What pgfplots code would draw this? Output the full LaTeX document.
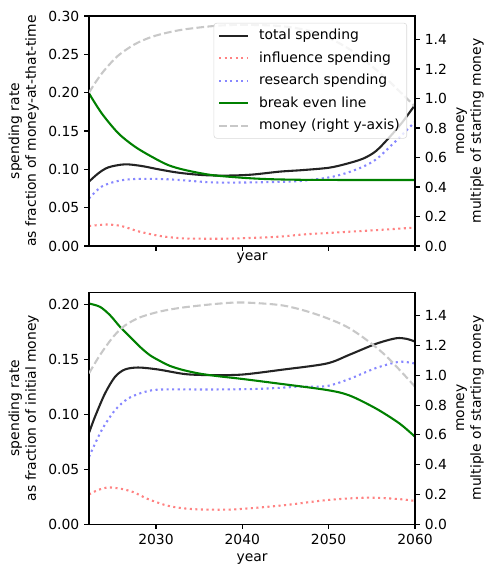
\documentclass[border=0pt]{standalone}
\usepackage{pgfplots}
\pgfplotsset{compat=1.18}
\usepackage{fontspec}
\setmainfont{DejaVu Sans}
\definecolor{mgreen}{RGB}{0,128,0}
\definecolor{mred}{RGB}{255,130,130}
\definecolor{mblue}{RGB}{135,135,255}
\definecolor{mgray}{RGB}{200,200,200}
\definecolor{mblack}{RGB}{35,35,35}
\pgfplotsset{
  base/.style={
    scale only axis, width=234.7pt, height=165.6pt,
    xmin=2022.25, xmax=2060,
    tick align=outside, major tick length=3.5pt,
    every tick/.style={black, line width=0.8pt},
    axis line style={line width=0.8pt},
    tick label style={font=\fontsize{10}{12}\selectfont},
    label style={font=\fontsize{10}{12}\selectfont},
    /pgf/number format/assume math mode=true,
    /pgf/number format/set thousands separator={},
    xtick={2030,2040,2050,2060},
    axis on top,
  },
  leftax/.style={base, ytick pos=left, xtick pos=bottom,
    yticklabel style={/pgf/number format/fixed,/pgf/number format/fixed zerofill,/pgf/number format/precision=2},
    ylabel style={align=center}},
  rightax/.style={base, axis x line=none, axis y line*=right, ymin=0, ymax=1.56,
    ytick={0,0.2,0.4,0.6,0.8,1.0,1.2,1.4},
    yticklabel style={/pgf/number format/fixed,/pgf/number format/fixed zerofill,/pgf/number format/precision=1},
    ylabel near ticks, ylabel style={align=center}},
  tot/.style={mblack, line width=1.5pt, smooth},
  infl/.style={mred, line width=1.5pt, dash pattern=on 1.5pt off 2.5pt, smooth},
  res/.style={mblue, line width=1.5pt, dash pattern=on 1.5pt off 2.5pt, smooth},
  brk/.style={mgreen, line width=1.5pt, smooth},
  mon/.style={mgray, line width=1.5pt, dash pattern=on 5.5pt off 2.4pt, smooth},
}
\begin{document}
\begin{tikzpicture}
\useasboundingbox (-64.1pt,-237.6pt) rectangle (286.5pt,177.1pt);
% ---------- top panel ----------
\begin{axis}[leftax, at={(0,0)}, anchor=south west, ymin=0, ymax=0.30,
  ytick={0,0.05,0.10,0.15,0.20,0.25,0.30}, xticklabels={},
  xlabel={year}, xlabel style={yshift=9pt},
  ylabel={spending rate\\as fraction of money-at-that-time}]
\addplot[tot] coordinates {(2022.25,0.084) (2023.33,0.0948) (2024.5,0.1026) (2026.4,0.1065) (2028.35,0.1043) (2030.3,0.100) (2032.6,0.0956) (2035.3,0.0926) (2038,0.0918) (2041,0.093) (2044.35,0.097) (2047,0.099) (2050,0.102) (2052,0.107) (2054,0.114) (2055.5,0.124) (2057.1,0.1426) (2058.5,0.161) (2060,0.184)};
\addplot[infl] coordinates {(2022.25,0.026) (2024.3,0.028) (2026,0.026) (2028,0.019) (2030.5,0.013) (2033,0.010) (2035.1,0.0095) (2038,0.0095) (2041,0.0105) (2044.35,0.0122) (2047,0.015) (2050,0.017) (2053,0.019) (2056,0.021) (2060,0.024)};
\addplot[res] coordinates {(2022.25,0.062) (2023.7,0.0774) (2025.6,0.0848) (2027.6,0.0874) (2031.4,0.087) (2036.4,0.083) (2040,0.0828) (2044,0.0835) (2047,0.085) (2050.1,0.0896) (2052,0.095) (2054,0.1035) (2055.5,0.113) (2057.1,0.1295) (2058.5,0.145) (2060,0.162)};
\addplot[brk] coordinates {(2022.25,0.199) (2023.72,0.173) (2025.64,0.147) (2027.57,0.1295) (2029.5,0.1165) (2031.4,0.1056) (2033.4,0.099) (2036.4,0.0926) (2040,0.089) (2043,0.0872) (2047,0.0863) (2052,0.0861) (2060,0.0861)};
\end{axis}
\begin{axis}[rightax, at={(0,0)}, anchor=south west,
  ylabel={money\\multiple of starting money},
  legend cell align=left,
  legend image code/.code={\draw[#1] (0pt,0pt) -- (21pt,0pt); \path (26pt,0pt);},
  legend style={at={(rel axis cs:0.9755,0.97)}, anchor=north east,
    draw=black!15, rounded corners=2pt, fill=white, fill opacity=0.8, text opacity=1,
    font=\fontsize{10}{12}\selectfont, row sep=3.1pt, inner xsep=3pt, inner ysep=2.5pt}]
\addlegendimage{tot}
\addlegendentry{total spending}
\addlegendimage{infl}
\addlegendentry{influence spending}
\addlegendimage{res}
\addlegendentry{research spending}
\addlegendimage{brk}
\addlegendentry{break even line}
\addplot[mon] coordinates {(2022.25,1.04) (2023.0,1.11) (2024.0,1.19) (2025.6,1.29) (2027.6,1.37) (2029.5,1.418) (2031.4,1.448) (2033.4,1.47) (2036.9,1.493) (2040.1,1.50) (2044.7,1.49) (2048.6,1.445) (2052.4,1.335) (2056.3,1.155) (2060,0.945)};
\addlegendentry{money (right y-axis)}
\end{axis}
% ---------- bottom panel ----------
\begin{axis}[leftax, at={(0,-200.2pt)}, anchor=south west, height=167pt, ymin=0, ymax=0.211,
  ytick={0,0.05,0.10,0.15,0.20},
  xlabel={year}, ylabel={spending rate\\as fraction of initial money}]
\addplot[tot] coordinates {(2022.25,0.083) (2022.94,0.0976) (2024.1,0.1188) (2025.26,0.1339) (2026.4,0.1406) (2027.95,0.1424) (2030.26,0.1406) (2033.4,0.1364) (2036.4,0.1355) (2040,0.136) (2044.7,0.1405) (2049.75,0.146) (2052.4,0.154) (2055.5,0.164) (2057.8,0.169) (2059,0.1685) (2060,0.166)};
\addplot[infl] coordinates {(2022.25,0.027) (2023.3,0.031) (2024.5,0.0333) (2026,0.032) (2027.4,0.029) (2029,0.023) (2031.2,0.017) (2033,0.0145) (2035.1,0.0133) (2038.95,0.0133) (2044.7,0.017) (2049.75,0.0218) (2054.4,0.024) (2058.2,0.0227) (2060,0.021)};
\addplot[res] coordinates {(2022.25,0.0612) (2023.72,0.0855) (2025.26,0.1036) (2026.8,0.1143) (2028.73,0.1203) (2030.65,0.1224) (2036.4,0.1224) (2042,0.123) (2046.7,0.125) (2049.75,0.1255) (2052.4,0.132) (2055.5,0.142) (2058.2,0.1476) (2060,0.146)};
\addplot[brk] coordinates {(2022.25,0.2006) (2023.52,0.1976) (2024.68,0.190) (2025.84,0.1794) (2027.0,0.1703) (2028.15,0.1612) (2029.3,0.1536) (2030.5,0.1482) (2031.6,0.1439) (2033.2,0.14) (2035.1,0.1368) (2037.2,0.1345) (2040,0.132) (2044,0.128) (2049.75,0.122) (2052.4,0.117) (2055.5,0.105) (2058.2,0.0915) (2060,0.0794)};
\end{axis}
\begin{axis}[rightax, at={(0,-200.2pt)}, anchor=south west, height=167pt,
  ylabel={money\\multiple of starting money}]
\addplot[mon] coordinates {(2022.25,1.014) (2023.52,1.137) (2025.06,1.26) (2026.4,1.335) (2028.15,1.39) (2030.5,1.43) (2033.2,1.457) (2037.2,1.482) (2040.1,1.49) (2044.7,1.47) (2048.6,1.41) (2052.4,1.317) (2056.3,1.149) (2060,0.924)};
\end{axis}
\end{tikzpicture}
\end{document}
